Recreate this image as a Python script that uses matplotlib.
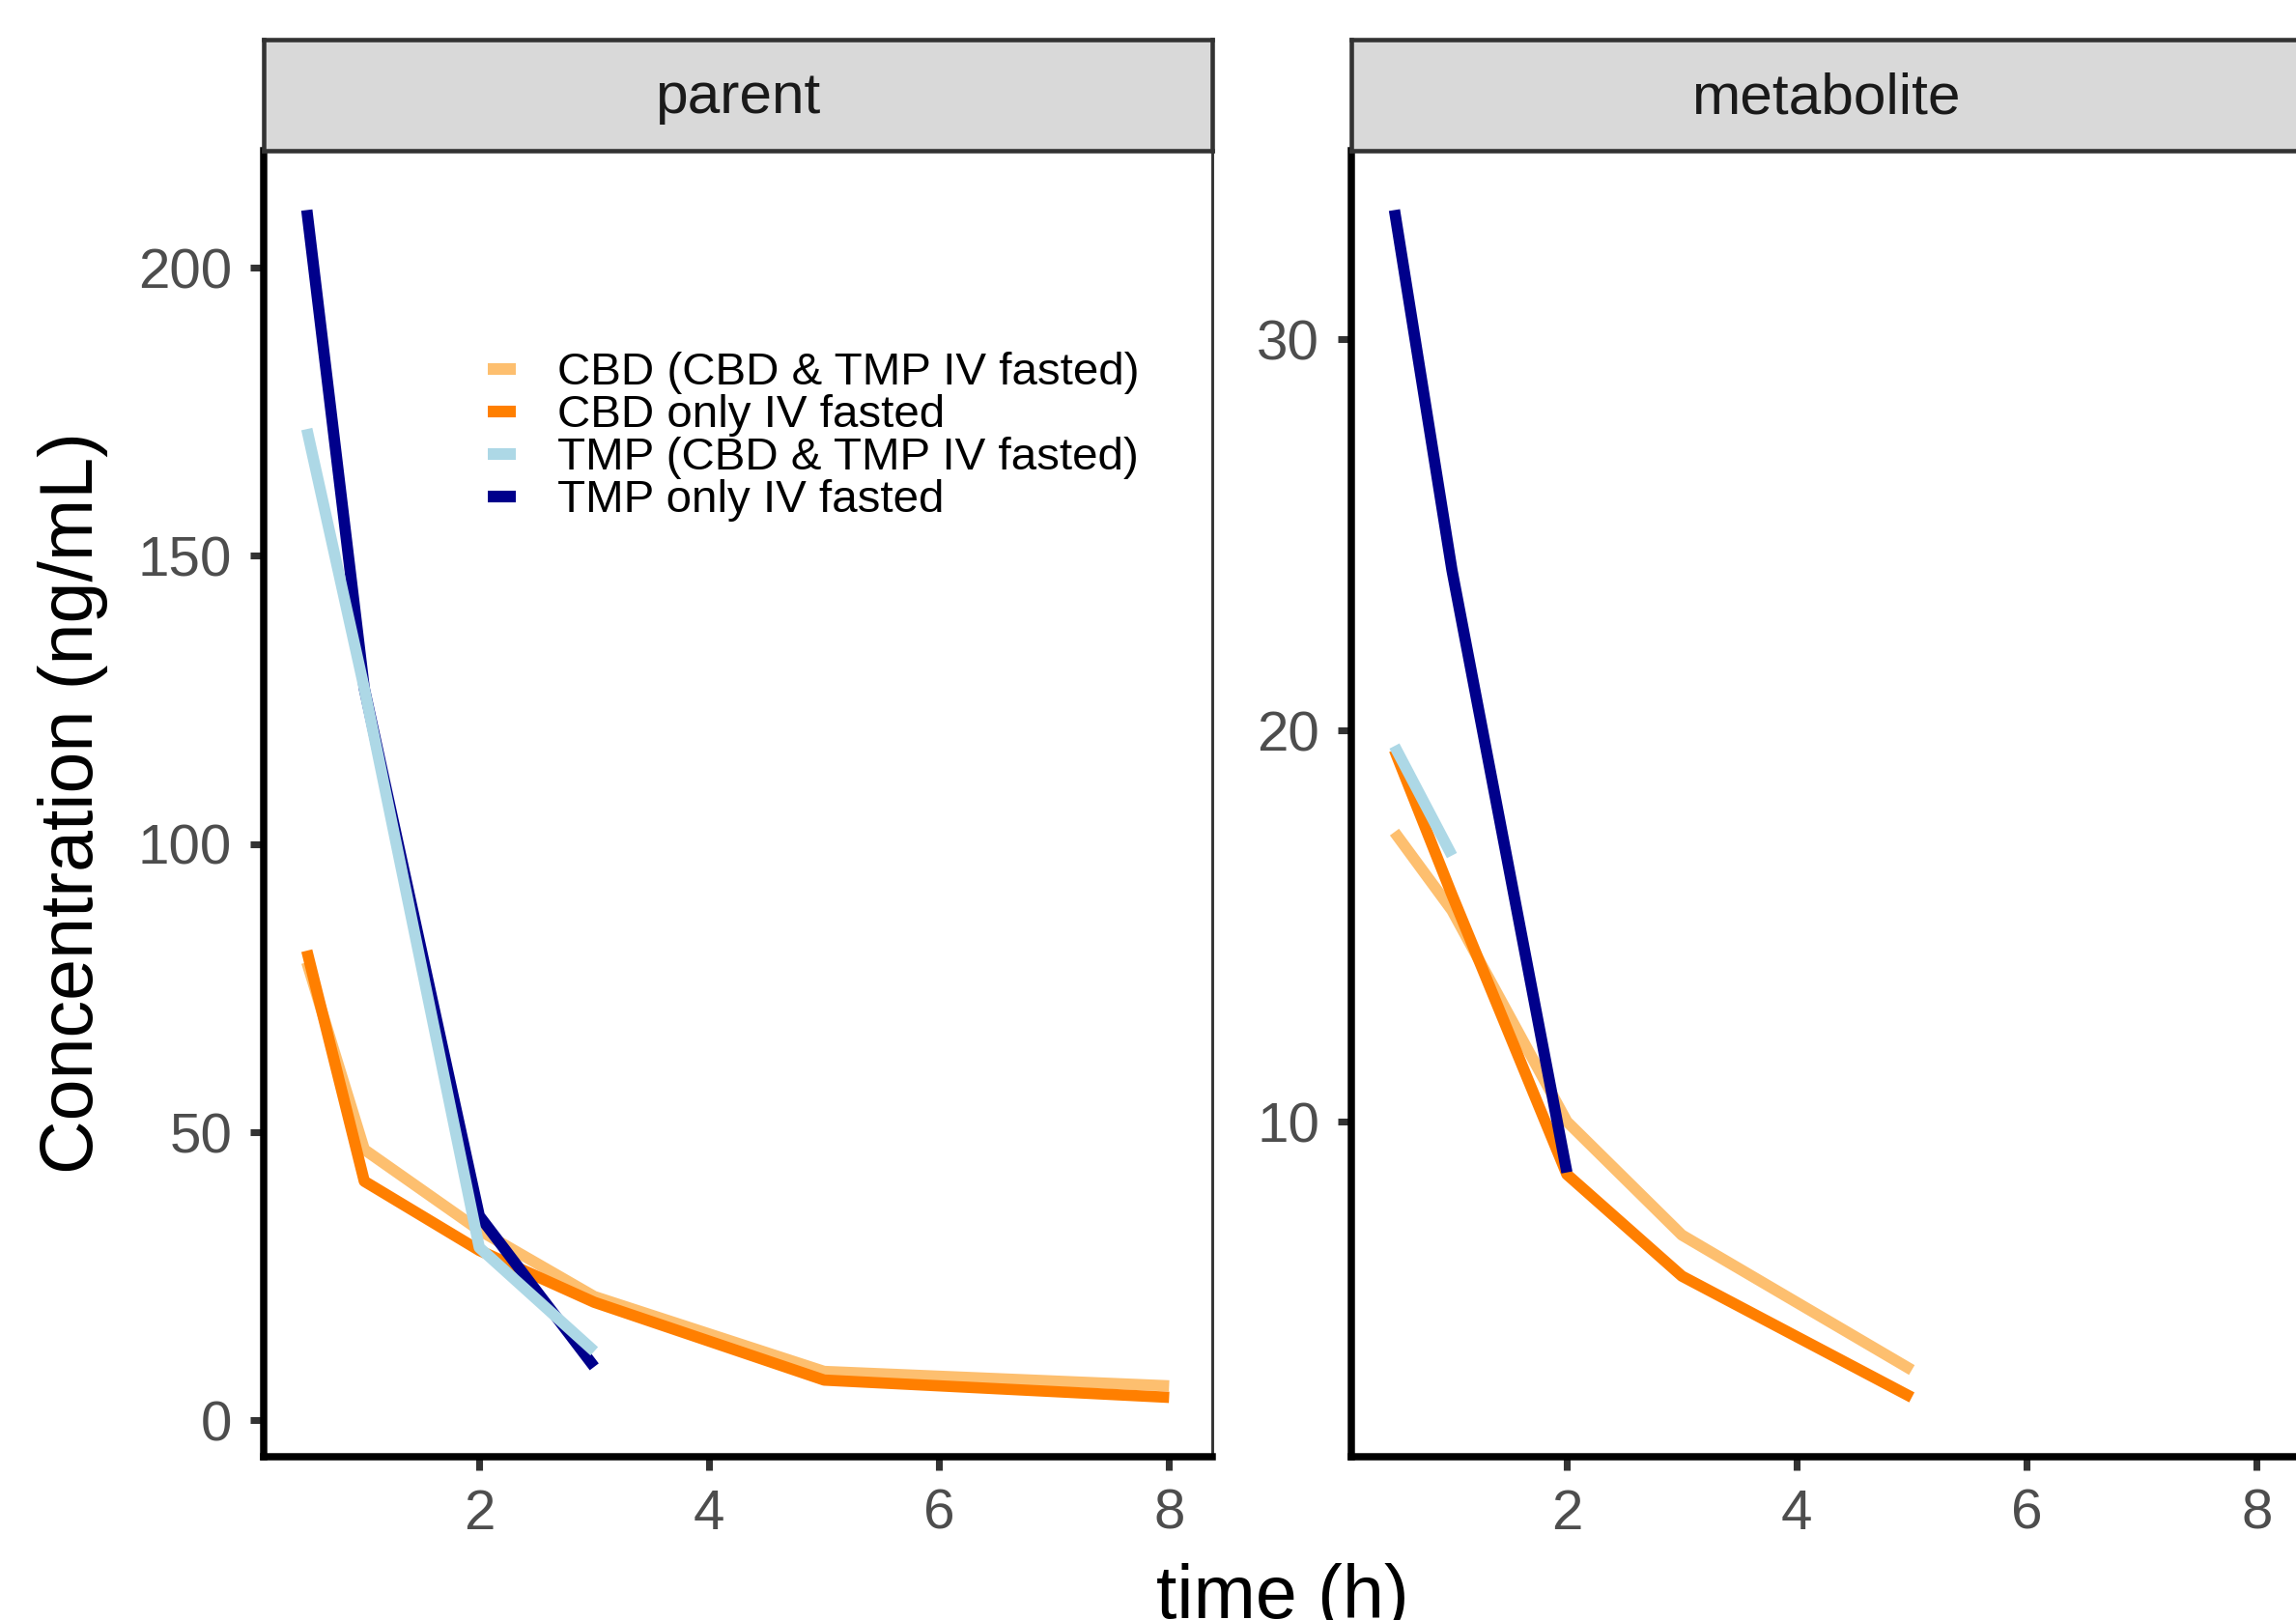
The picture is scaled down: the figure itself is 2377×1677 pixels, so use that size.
import matplotlib
matplotlib.use('Agg')
import matplotlib.pyplot as plt
from matplotlib.lines import Line2D
import numpy as np

plt.rcParams['font.family'] = ['Liberation Sans', 'DejaVu Sans']

# ---- data ----
cbd_time = [0.5, 1, 2, 3, 5, 8]
tmp_time = [0.5, 1, 2, 3]

# parent panel
cbd_combo_parent = [79.5, 47.0, 33.0, 21.5, 8.5, 6.0]
cbd_only_parent = [81.5, 41.5, 29.5, 20.5, 7.0, 4.0]
tmp_combo_parent = [172.0, 127.0, 30.0, 12.0]
tmp_only_parent = [210.0, 127.0, 35.5, 9.3]

# metabolite panel
cbd_time_met = [0.5, 1, 2, 3, 5]
cbd_combo_met = [17.4, 15.4, 10.0, 7.1, 3.65]
cbd_only_met = [19.5, 15.8, 8.65, 6.05, 2.95]
tmp_combo_time_met = [0.5, 1]
tmp_combo_met = [19.6, 16.8]
tmp_only_time_met = [0.5, 1, 2]
tmp_only_met = [33.3, 24.1, 8.7]

labels = ['CBD (CBD & TMP IV fasted)', 'CBD only IV fasted',
          'TMP (CBD & TMP IV fasted)', 'TMP only IV fasted']
colors = ['#FDBF6F', '#FF7F00', '#ADD8E6', '#00008B']

W, H = 2377, 1677
dpi = 300
fig = plt.figure(figsize=(W / dpi, H / dpi), dpi=dpi)

lw = 2.8
panel_left = [273 / W, 1399 / W]
panel_w = 982 / W
panel_b = 1 - 1508 / H
panel_h = (1508 - 156) / H
strip_h = 115 / H


def expand(vals, f=0.05):
    lo, hi = min(vals), max(vals)
    d = (hi - lo) * f
    return lo - d, hi + d


def make_panel(x0, title):
    ax = fig.add_axes([x0, panel_b, panel_w, panel_h])
    for s in ['top', 'right']:
        ax.spines[s].set_color('#333333')
        ax.spines[s].set_linewidth(0.7)
    for s in ['left', 'bottom']:
        ax.spines[s].set_color('black')
        ax.spines[s].set_linewidth(1.8)
        ax.spines[s].set_zorder(5)
    ax.tick_params(length=3.4, width=1.7, color='#333333', labelsize=14,
                   labelcolor='#4D4D4D', pad=4.5)
    ax.set_xlim(0.125, 8.375)
    ax.set_xticks([2, 4, 6, 8])
    sx = fig.add_axes([x0, panel_b + panel_h, panel_w, strip_h])
    sx.set_facecolor('#D9D9D9')
    sx.set_xticks([])
    sx.set_yticks([])
    for s in sx.spines.values():
        s.set_color('#333333')
        s.set_linewidth(1.1)
    sx.text(0.5, 0.47, title, ha='center', va='center', fontsize=14.5,
            color='#1A1A1A', transform=sx.transAxes)
    return ax


def draw(ax, series):
    # oranges first, then navy, light blue on top
    for idx in [0, 1, 3, 2]:
        t, v = series[idx]
        ax.plot(t, v, color=colors[idx], lw=lw, solid_capstyle='butt',
                solid_joinstyle='round')


ax1 = make_panel(panel_left[0], 'parent')
parent = [(cbd_time, cbd_combo_parent), (cbd_time, cbd_only_parent),
          (tmp_time, tmp_combo_parent), (tmp_time, tmp_only_parent)]
draw(ax1, parent)
ax1.set_ylim(*expand(cbd_combo_parent + cbd_only_parent + tmp_combo_parent + tmp_only_parent))
ax1.set_yticks([0, 50, 100, 150, 200])

ax2 = make_panel(panel_left[1], 'metabolite')
met = [(cbd_time_met, cbd_combo_met), (cbd_time_met, cbd_only_met),
       (tmp_combo_time_met, tmp_combo_met), (tmp_only_time_met, tmp_only_met)]
draw(ax2, met)
ax2.set_ylim(*expand(cbd_combo_met + cbd_only_met + tmp_combo_met + tmp_only_met))
ax2.set_yticks([10, 20, 30])

handles = [Line2D([0], [0], color=c, lw=2.9, solid_capstyle='butt') for c in colors]
ax1.legend(handles, labels, loc='upper left', bbox_to_anchor=(0.236, 0.846),
           frameon=False, fontsize=11.4, handlelength=0.62, handletextpad=0.9,
           labelspacing=0.0, borderpad=0, borderaxespad=0)

fig.text(76 / W, 1 - 831 / H, 'Concentration (ng/mL)', rotation=90,
         ha='center', va='center', fontsize=18.5, color='black')
fig.text(0.5587, 1 - 1618 / H, 'time (h)', ha='center', va='top',
         fontsize=18.5, color='black')

fig.savefig('out.png', dpi=dpi)
